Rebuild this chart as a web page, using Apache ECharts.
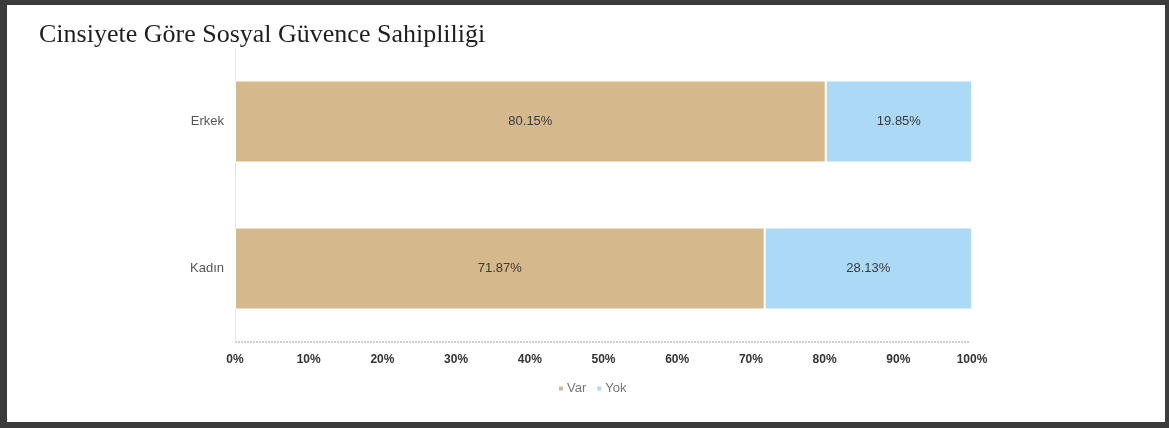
<!DOCTYPE html>
<html>
<head>
<meta charset="utf-8">
<script src="https://cdn.jsdelivr.net/npm/echarts@6/dist/echarts.min.js"></script>
<style>
  html, body { margin: 0; padding: 0; background: #3b3b3b; width: 1169px; height: 428px; overflow: hidden; }
  #main { position: absolute; left: 7px; top: 5px; width: 1158px; height: 417px; background: #fff; }
</style>
</head>
<body>
<div id="main"></div>
<script>
// veriler
const categories = ['Erkek', 'Kadın'];
const varValues = [80.15, 71.87];
const yokValues = [19.85, 28.13];
const tickMax = 100;

let myChart = echarts.init(document.getElementById('main'));

let option = {
	title: {
		text: 'Cinsiyete Göre Sosyal Güvence Sahipliliği',
		left: 27,
		top: 12,
		textStyle: {
			fontFamily: 'Liberation Serif',
			fontSize: 26,
			fontWeight: 'normal',
			color: '#1e1e1e'
		}
	},
	legend: {
		data: ['Var', 'Yok'],
		left: 545,
		top: 372,
		itemWidth: 6,
		itemHeight: 6,
		itemGap: 9,
		icon: 'rect',
		textStyle: { color: '#777', fontSize: 13, fontFamily: 'Liberation Sans', padding: [0, 0, 0, -2] }
	},
	grid: {
		left: 228,
		right: 193,
		top: 43,
		bottom: 80
	},
	xAxis: {
		type: 'value',
		min: 0,
		max: tickMax,
		interval: 10,
		splitLine: { show: false },
		axisLine: { show: false },
		axisTick: { show: false },
		axisLabel: {
			formatter: '{value}%',
			color: '#333',
			fontSize: 12,
			fontWeight: 'bold',
			fontFamily: 'Liberation Sans',
			margin: 12
		}
	},
	yAxis: {
		type: 'category',
		data: categories,
		inverse: true,
		axisTick: { show: false },
		axisLine: { show: true, lineStyle: { color: '#e3e3e3', width: 1 } },
		axisLabel: { color: '#555', fontSize: 13, fontFamily: 'Liberation Sans', margin: 11 }
	},
	graphic: [{
		type: 'line',
		shape: { x1: 228, y1: 337, x2: 963, y2: 337 },
		style: { stroke: '#9a9a9a', lineWidth: 1, lineDash: [2, 1] }
	}],
	series: [
		{
			name: 'Var',
			type: 'bar',
			stack: 'toplam',
			barWidth: 82,
			data: varValues,
			itemStyle: { color: '#d5b98c', borderColor: '#fff', borderWidth: 1 },
			label: {
				show: true,
				position: 'inside',
				formatter: p => p.value.toFixed(2) + '%',
				color: '#3a3a3a',
				fontSize: 13,
				fontFamily: 'Liberation Sans'
			}
		},
		{
			name: 'Yok',
			type: 'bar',
			stack: 'toplam',
			data: yokValues,
			itemStyle: { color: '#acd9f6', borderColor: '#fff', borderWidth: 1 },
			label: {
				show: true,
				position: 'inside',
				formatter: p => p.value.toFixed(2) + '%',
				color: '#3a3a3a',
				fontSize: 13,
				fontFamily: 'Liberation Sans'
			}
		}
	]
};

myChart.setOption(option);
</script>
</body>
</html>
